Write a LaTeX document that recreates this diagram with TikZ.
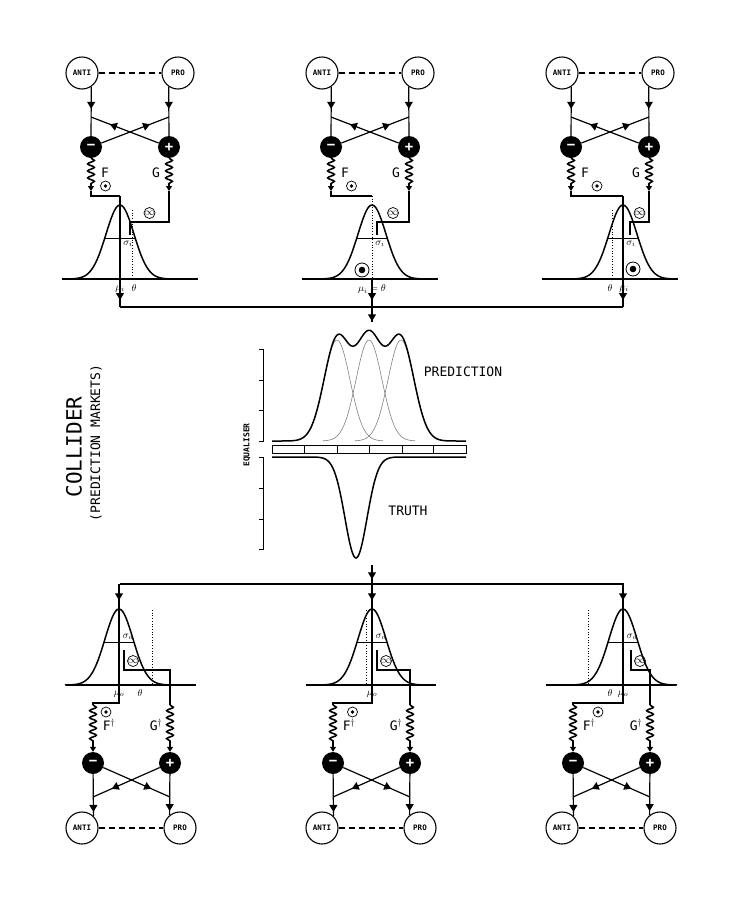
\documentclass[tikz,border=0pt]{standalone}
\usepackage{fontspec}
\setmainfont{DejaVu Sans Mono}
\usetikzlibrary{arrows.meta,decorations.markings,decorations.pathmorphing}
\begin{document}
\begin{tikzpicture}[x=1pt,y=-1pt,
 wire/.style={line width=1.2pt},
 curve/.style={line width=1.5pt},
 mark/.style={postaction={decorate},decoration={markings,mark=at position #1 with {\arrow{Triangle[width=8pt,length=7pt]}}}},
 agent/.style={circle,draw,line width=1.1pt,minimum size=32pt,inner sep=0pt,font=\fontsize{7.5}{7.5}\selectfont\bfseries},
 pole/.style={circle,fill=black,minimum size=22pt,inner sep=0pt,text=white,font=\fontsize{14}{14}\selectfont\bfseries},
 spring/.style={line width=1.6pt,decorate,decoration={snake,amplitude=3.3pt,segment length=7pt}},
 tip/.style={line width=1.2pt,-{Triangle[width=6pt,length=5pt]}},
 odot/.style={circle,draw,line width=0.7pt,minimum size=10pt,inner sep=0pt,path picture={\fill (path picture bounding box.center) circle (1.8pt);}},
 bigodot/.style={circle,draw,line width=0.8pt,minimum size=14pt,inner sep=0pt,path picture={\fill (path picture bounding box.center) circle (3.3pt);}},
 inf/.style={circle,draw,line width=0.7pt,minimum size=11pt,inner sep=0pt,font=\fontsize{10}{10}\selectfont},
 lab/.style={font=\fontsize{13}{13}\selectfont},
 small/.style={font=\fontsize{10}{10}\selectfont,inner sep=0pt},
 dot/.style={line width=0.7pt,dotted}
]
\useasboundingbox (0,0) rectangle (733,900);
% ---------------- top units
\foreach \b/\m/\n/\g/\t in {0/120/L/10/12, 240/372/M/5/0, 480/623/R/7/-11} {
 \node[agent] (ta\n) at (\b+82,73) {ANTI};
 \node[agent] (tp\n) at (\b+178,73) {PRO};
 \draw[line width=1.4pt,dash pattern=on 6pt off 4pt] (ta\n) -- (tp\n);
 \node[pole] (tm\n) at (\b+91,147) {−};
 \node[pole] (tq\n) at (\b+169,147) {+};
 \draw[wire,mark=0.45] (ta\n.-56) -- (tm\n);
 \draw[wire,mark=0.45] (tp\n.-124) -- (tq\n);
 \coordinate (tjl\n) at (\b+91,117);
 \coordinate (tjr\n) at (\b+169,117);
 \draw[wire,mark=0.72] (tq\n) -- (tjl\n);
 \draw[wire,mark=0.72] (tm\n) -- (tjr\n);
 \coordinate (tfs\n) at (\b+91,185);
 \coordinate (tgs\n) at (\b+169,185);
 \draw[spring] (tm\n) -- (tfs\n);
 \draw[spring] (tq\n) -- (tgs\n);
 \draw[tip] (tfs\n) -- ++(0,6) coordinate (tfe\n);
 \draw[tip] (tgs\n) -- ++(0,6) coordinate (tge\n);
 \node[lab] (tF\n) at (\b+105,173) {F};
 \node[lab] (tG\n) at (\b+156,173) {G};
 % F wire
 \coordinate (tmu\n) at (\m,196);
 \draw[wire] (tfe\n) -- (\b+91,196) -- (tmu\n);
 \node[odot] (tod\n) at ({(\b+91+\m)/2},186) {};
 % gaussian
 \draw[wire] (\b+62,279) -- (\b+198,279);
 \draw[curve] plot[domain=-54:54,samples=90] ({\m+\x},{279-74*exp(-\x*\x/392)});
 \draw[line width=1pt] (\m-15,238) -- (\m+15,238);
 \draw[dot] (\m+\t,{\t==0 ? 196 : 210}) -- (\m+\t,279);
 % G wire
 \coordinate (tsg\n) at (\m+\g,235);
 \draw[wire] (tge\n) -- (\b+169,222) -- (\m+\g,222) -- (tsg\n);
 \node[inf] (tinf\n) at ({(\b+169+\m+\g)/2},213) {$\infty$};
 \node[small] (tsig\n) at (\m+8,244) {$\sigma_{i}$};
 \coordinate (tout\n) at (\m,307);
}
\draw[wire] (tmuL) -- (120,279);
\draw[wire] (tmuR) -- (623,279);
\node[small] at (120,289) {$\mu_{i}$};
\node[small] at (134,288) {$\theta$};
\node[small] at (372,289) {$\mu_{i}=\theta$};
\node[small] at (610,288) {$\theta$};
\node[small] at (624,289) {$\mu_{i}$};
\node[bigodot] (bgM) at (362,270) {};
\node[bigodot] (bgR) at (633,269) {};
% top bus
\coordinate (busT) at (372,307);
\coordinate (cin) at (372,322);
\draw[wire,mark=0.75] (120,279) -- (toutL);
\draw[wire,mark=0.75] (623,279) -- (toutR);
\draw[wire] (toutL) -- (toutR);
\draw[wire,mark=0.75] (372,279) -- (busT);
\draw[wire,mark=0.95] (busT) -- (cin);
% ---------------- centre
\foreach \c in {337,369,401}
 \draw[gray,line width=0.6pt] plot[domain=-46:46,samples=60] ({\c+\x},{441-101*exp(-\x*\x/338)});
\draw[curve] plot[domain=272:466,samples=160] (\x,{441-101*(exp(-((\x-337)/18.38)^2)+exp(-((\x-369)/18.38)^2)+exp(-((\x-401)/18.38)^2))});
\draw[line width=0.6pt] (272,445) rectangle (466,453);
\foreach \d in {304,337,369,402,433} \draw[line width=0.6pt] (\d,445) -- (\d,453);
\draw[curve] plot[domain=272:466,samples=160] (\x,{457+101*exp(-((\x-356)/15.56)^2)});
\draw[line width=0.6pt] (259,349) -- (263,349) -- (263,441) -- (259,441);
\foreach \y in {380,410} \draw[line width=0.6pt] (259,\y) -- (263,\y);
\draw[line width=0.6pt] (259,457) -- (263,457) -- (263,549) -- (259,549);
\foreach \y in {488,519} \draw[line width=0.6pt] (259,\y) -- (263,\y);
\node[rotate=90,font=\fontsize{8}{8}\selectfont\bfseries] (eq) at (247,445) {EQUALISER};
\node[lab] (pred) at (463,372) {PREDICTION};
\node[lab] (truth) at (408,511) {TRUTH};
\node[rotate=90,font=\fontsize{21}{21}\selectfont] (col) at (74,447) {COLLIDER};
\node[rotate=90,font=\fontsize{13}{13}\selectfont] (pm) at (96,443) {(PREDICTION MARKETS)};
% ---------------- bottom
\coordinate (cout) at (372,565);
\coordinate (busB) at (372,584);
\draw[wire,mark=0.75] (cout) -- (busB);
\draw[wire] (120,584) -- (624,584);
\foreach \b/\m/\n/\g/\t in {0/119/L/5/33, 240/372/M/5/-6, 480/623/R/8/-35} {
 \coordinate (bin\n) at (\m,584);
 \draw[wire,mark=0.65] (bin\n) -- (\m,609);
 \draw[wire] (\b+66,685) -- (\b+196,685);
 \draw[curve] plot[domain=-54:54,samples=90] ({\m+\x},{685-76*exp(-\x*\x/392)});
 \draw[line width=1pt] (\m-15,642) -- (\m+15,642);
 \draw[dot] (\m+\t,610) -- (\m+\t,685);
 \node[agent] (ba\n) at (\b+82,828) {ANTI};
 \node[agent] (bp\n) at (\b+180,828) {PRO};
 \draw[line width=1.4pt,dash pattern=on 6pt off 4pt] (ba\n) -- (bp\n);
 \node[pole] (bm\n) at (\b+93,763) {−};
 \node[pole] (bq\n) at (\b+170,763) {+};
 \draw[wire,mark=0.9] (bm\n) -- (ba\n.46);
 \draw[wire,mark=0.9] (bq\n) -- (bp\n.129);
 \coordinate (bjl\n) at (\b+93,797);
 \coordinate (bjr\n) at (\b+170,797);
 \draw[wire,mark=0.72] (bq\n) -- (bjl\n);
 \draw[wire,mark=0.72] (bm\n) -- (bjr\n);
 % F wire
 \coordinate (bfs\n) at (\b+93,705);
 \draw[wire] (\m,609) -- (\m,703) -- (\b+93,703) -- (bfs\n);
 \coordinate (bfe\n) at (\b+93,741);
 \draw[spring] (bfs\n) -- (bfe\n);
 \draw[tip] (bfe\n) -- (bm\n.north);
 \node[odot] (bod\n) at ({(\b+93+\m)/2},712) {};
 % G wire
 \coordinate (bgs\n) at (\b+170,705);
 \draw[wire] (\m+\g,650) -- (\m+\g,670) -- (\b+170,670) -- (bgs\n);
 \coordinate (bge\n) at (\b+170,741);
 \draw[spring] (bgs\n) -- (bge\n);
 \draw[tip] (bge\n) -- (bq\n.north);
 \node[inf] (binf\n) at (\m+\g+9,661) {$\infty$};
 \node[small] (bsig\n) at (\m+9,637) {$\sigma_{o}$};
 \node[small] (bmu\n) at (\m,694) {$\mu_{o}$};
 \node[lab] (bF\n) at (\b+109,725) {F$^\dagger$};
 \node[lab] (bG\n) at (\b+156,725) {G$^\dagger$};
}
\node[small] at (140,693) {$\theta$};
\node[small] at (610,693) {$\theta$};
\end{tikzpicture}
\end{document}
